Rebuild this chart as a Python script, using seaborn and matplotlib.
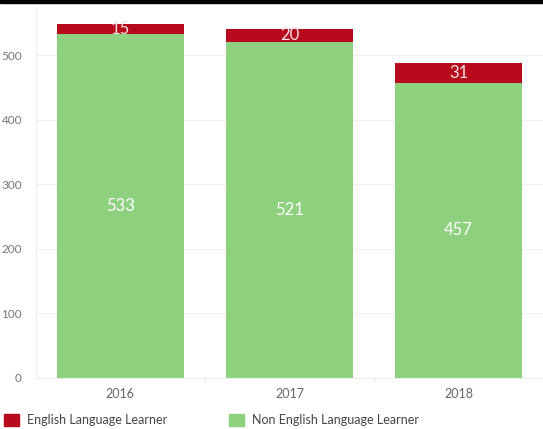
import pandas as pd
import numpy as np
import matplotlib
matplotlib.use('Agg')
import matplotlib.pyplot as plt
import matplotlib.patches as mpatches
import seaborn as sns

# data
years = ['2016', '2017', '2018']
ell = [15, 20, 31]
non_ell = [533, 521, 457]

red = '#B70A1C'
green = '#8DD17E'

df = pd.DataFrame({'Year': years, 'ELL': ell, 'NonELL': non_ell})
df['Total'] = df['ELL'] + df['NonELL']

sns.set_style('white')
plt.rcParams['font.family'] = ['Lato', 'DejaVu Sans']

fig = plt.figure(figsize=(5.43, 4.29), dpi=100)
ax = fig.add_axes([0.066, 0.119, 0.934, 0.865])

# stacked bars: total in red, non-ELL over it in green
sns.barplot(data=df, x='Year', y='Total', color=red, width=0.75, saturation=1,
            linewidth=0, ax=ax)
sns.barplot(data=df, x='Year', y='NonELL', color=green, width=0.75, saturation=1,
            linewidth=0, ax=ax)

for i, row in df.iterrows():
    ax.text(i, row['NonELL'] / 2, str(row['NonELL']), ha='center', va='center',
            color='white', fontsize=12)
    ax.text(i, row['NonELL'] + row['ELL'] / 2, str(row['ELL']), ha='center', va='center',
            color='#f3e0e0', fontsize=12)

ax.set_ylim(0, 575)
ax.set_xlim(-0.5, 2.5)
ax.set_yticks([0, 100, 200, 300, 400, 500])
ax.yaxis.grid(True, color='#f0f0f0', linewidth=0.8)
ax.set_axisbelow(True)
ax.set_xlabel('')
ax.set_ylabel('')
ax.tick_params(axis='y', colors='#777777', labelsize=8.5, length=0, pad=10)
ax.tick_params(axis='x', colors='#666666', labelsize=9, length=0, pad=7)
for side in ['top', 'right']:
    ax.spines[side].set_visible(False)
ax.spines['left'].set_color('#eeeeee')
ax.spines['bottom'].set_color('#eeeeee')
for xs in [0.5, 1.5]:
    ax.plot([xs, xs], [0, -6], color='#e6e6e6', lw=0.8, clip_on=False)

# black line across the top
fig.add_artist(mpatches.Rectangle((0, 1 - 3 / 429), 1, 3 / 429, transform=fig.transFigure,
                                  color='black'))

handles = [mpatches.Patch(color=red, label='English Language Learner'),
           mpatches.Patch(color=green, label='Non English Language Learner')]
fig.legend(handles=handles, loc='lower left', bbox_to_anchor=(-0.013, -0.02), ncol=2,
           frameon=False, fontsize=9, handlelength=1.2, handleheight=1.2,
           columnspacing=5.0, handletextpad=0.6, labelcolor='#444444')

fig.savefig('out.png', dpi=100)
